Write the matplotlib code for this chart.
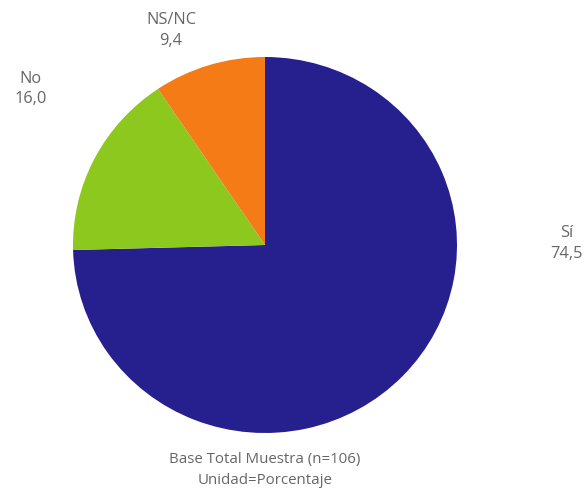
import matplotlib.pyplot as plt

categories = ['Sí', 'No', 'NS/NC']
values = [74.5, 16.0, 9.4]
colors = ['#25208e', '#8dc81f', '#f47b16']

# label anchors in pie data units (pie radius = 1)
label_pos = {'Sí': (1.57, 0.01), 'No': (-1.22, 0.83), 'NS/NC': (-0.49, 1.14)}

footer = ['Base Total Muestra (n=106)', 'Unidad=Porcentaje']

plt.rcParams['font.family'] = ['Open Sans', 'DejaVu Sans']
text_color = '#666666'

fig = plt.figure(figsize=(5.87, 4.97), dpi=100)
ax = fig.add_axes([73 / 587, 64 / 497, 384 / 587, 376 / 497])

ax.pie(values, colors=colors, startangle=90, counterclock=False,
       wedgeprops=dict(linewidth=0))
ax.set_aspect('auto')
ax.set_xlim(-1, 1)
ax.set_ylim(-1, 1)
ax.axis('off')

for cat, val in zip(categories, values):
    x, y = label_pos[cat]
    txt = cat + '\n' + ('%.1f' % val).replace('.', ',')
    ax.text(x, y, txt, ha='center', va='center', fontsize=11.8,
            color=text_color, linespacing=1.4, clip_on=False)

fig.text(265 / 587, 1 - 460 / 497, footer[0], ha='center', va='center',
         fontsize=10.8, color=text_color)
fig.text(265 / 587, 1 - 481 / 497, footer[1], ha='center', va='center',
         fontsize=10.8, color=text_color)

fig.savefig('out.png', dpi=100)
